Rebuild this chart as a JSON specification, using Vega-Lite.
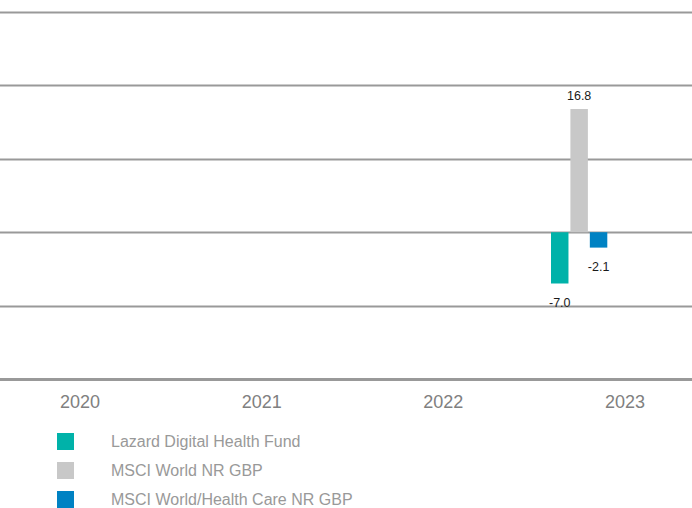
{
  "$schema": "https://vega.github.io/schema/vega-lite/v6.json",
  "width": 684,
  "height": 367,
  "autosize": "none",
  "padding": {"left": 8, "top": 12, "right": 0, "bottom": 129},
  "config": {
    "view": {"stroke": null},
    "locale": {"number": {"decimal": ".", "thousands": ",", "grouping": [3], "currency": ["$", ""], "minus": "-"}}
  },
  "data": {
    "values": [
      {"year": "2023", "series": "Lazard Digital Health Fund", "value": -7.0},
      {"year": "2023", "series": "MSCI World NR GBP", "value": 16.8},
      {"year": "2023", "series": "MSCI World/Health Care NR GBP", "value": -2.1}
    ]
  },
  "encoding": {
    "x": {
      "field": "year",
      "type": "ordinal",
      "scale": {"domain": ["2020", "2021", "2022", "2023"], "range": [-18.8, 707.8], "paddingInner": 0, "paddingOuter": 0},
      "axis": {"title": null, "domain": false, "ticks": false, "grid": false, "labelAngle": 0, "labelColor": "#808080", "labelFontSize": 18, "labelFont": "Liberation Sans", "labelPadding": 14}
    },
    "xOffset": {
      "field": "series",
      "type": "nominal",
      "scale": {"domain": ["Lazard Digital Health Fund", "MSCI World NR GBP", "MSCI World/Health Care NR GBP"], "range": [16.85, 73.15], "paddingInner": 0.1, "paddingOuter": 0}
    },
    "y": {
      "field": "value",
      "type": "quantitative",
      "scale": {"domain": [-20, 30], "nice": false, "zero": false},
      "axis": {"title": null, "values": [-20, -10, 0, 10, 20, 30], "labels": false, "ticks": false, "domain": false, "grid": true, "gridColor": "#999999", "gridWidth": {"condition": {"test": "datum.value === -20", "value": 3}, "value": 2}}
    }
  },
  "layer": [
    {
      "mark": {"type": "bar"},
      "encoding": {
        "color": {
          "field": "series",
          "type": "nominal",
          "scale": {"domain": ["Lazard Digital Health Fund", "MSCI World NR GBP", "MSCI World/Health Care NR GBP"], "range": ["#00B2A9", "#C8C8C8", "#0082C3"]},
          "legend": {"orient": "none", "legendX": 49, "legendY": 421, "title": null, "symbolType": "square", "symbolSize": 289, "symbolStrokeWidth": 0, "symbolOpacity": 1, "labelFontSize": 16, "labelColor": "#999999", "labelFont": "Liberation Sans", "labelOffset": 37, "labelLimit": 0, "rowPadding": 12, "padding": 0}
        }
      }
    },
    {
      "transform": [{"filter": "datum.value >= 0"}],
      "mark": {"type": "text", "dy": -13, "baseline": "middle", "fontSize": 12.5, "font": "Liberation Sans", "color": "#1a1a1a"},
      "encoding": {"text": {"field": "value", "type": "quantitative", "format": ".1f"}}
    },
    {
      "transform": [{"filter": "datum.value < 0"}],
      "mark": {"type": "text", "dy": 19, "baseline": "middle", "fontSize": 12.5, "font": "Liberation Sans", "color": "#1a1a1a"},
      "encoding": {"text": {"field": "value", "type": "quantitative", "format": ".1f"}}
    }
  ]
}
